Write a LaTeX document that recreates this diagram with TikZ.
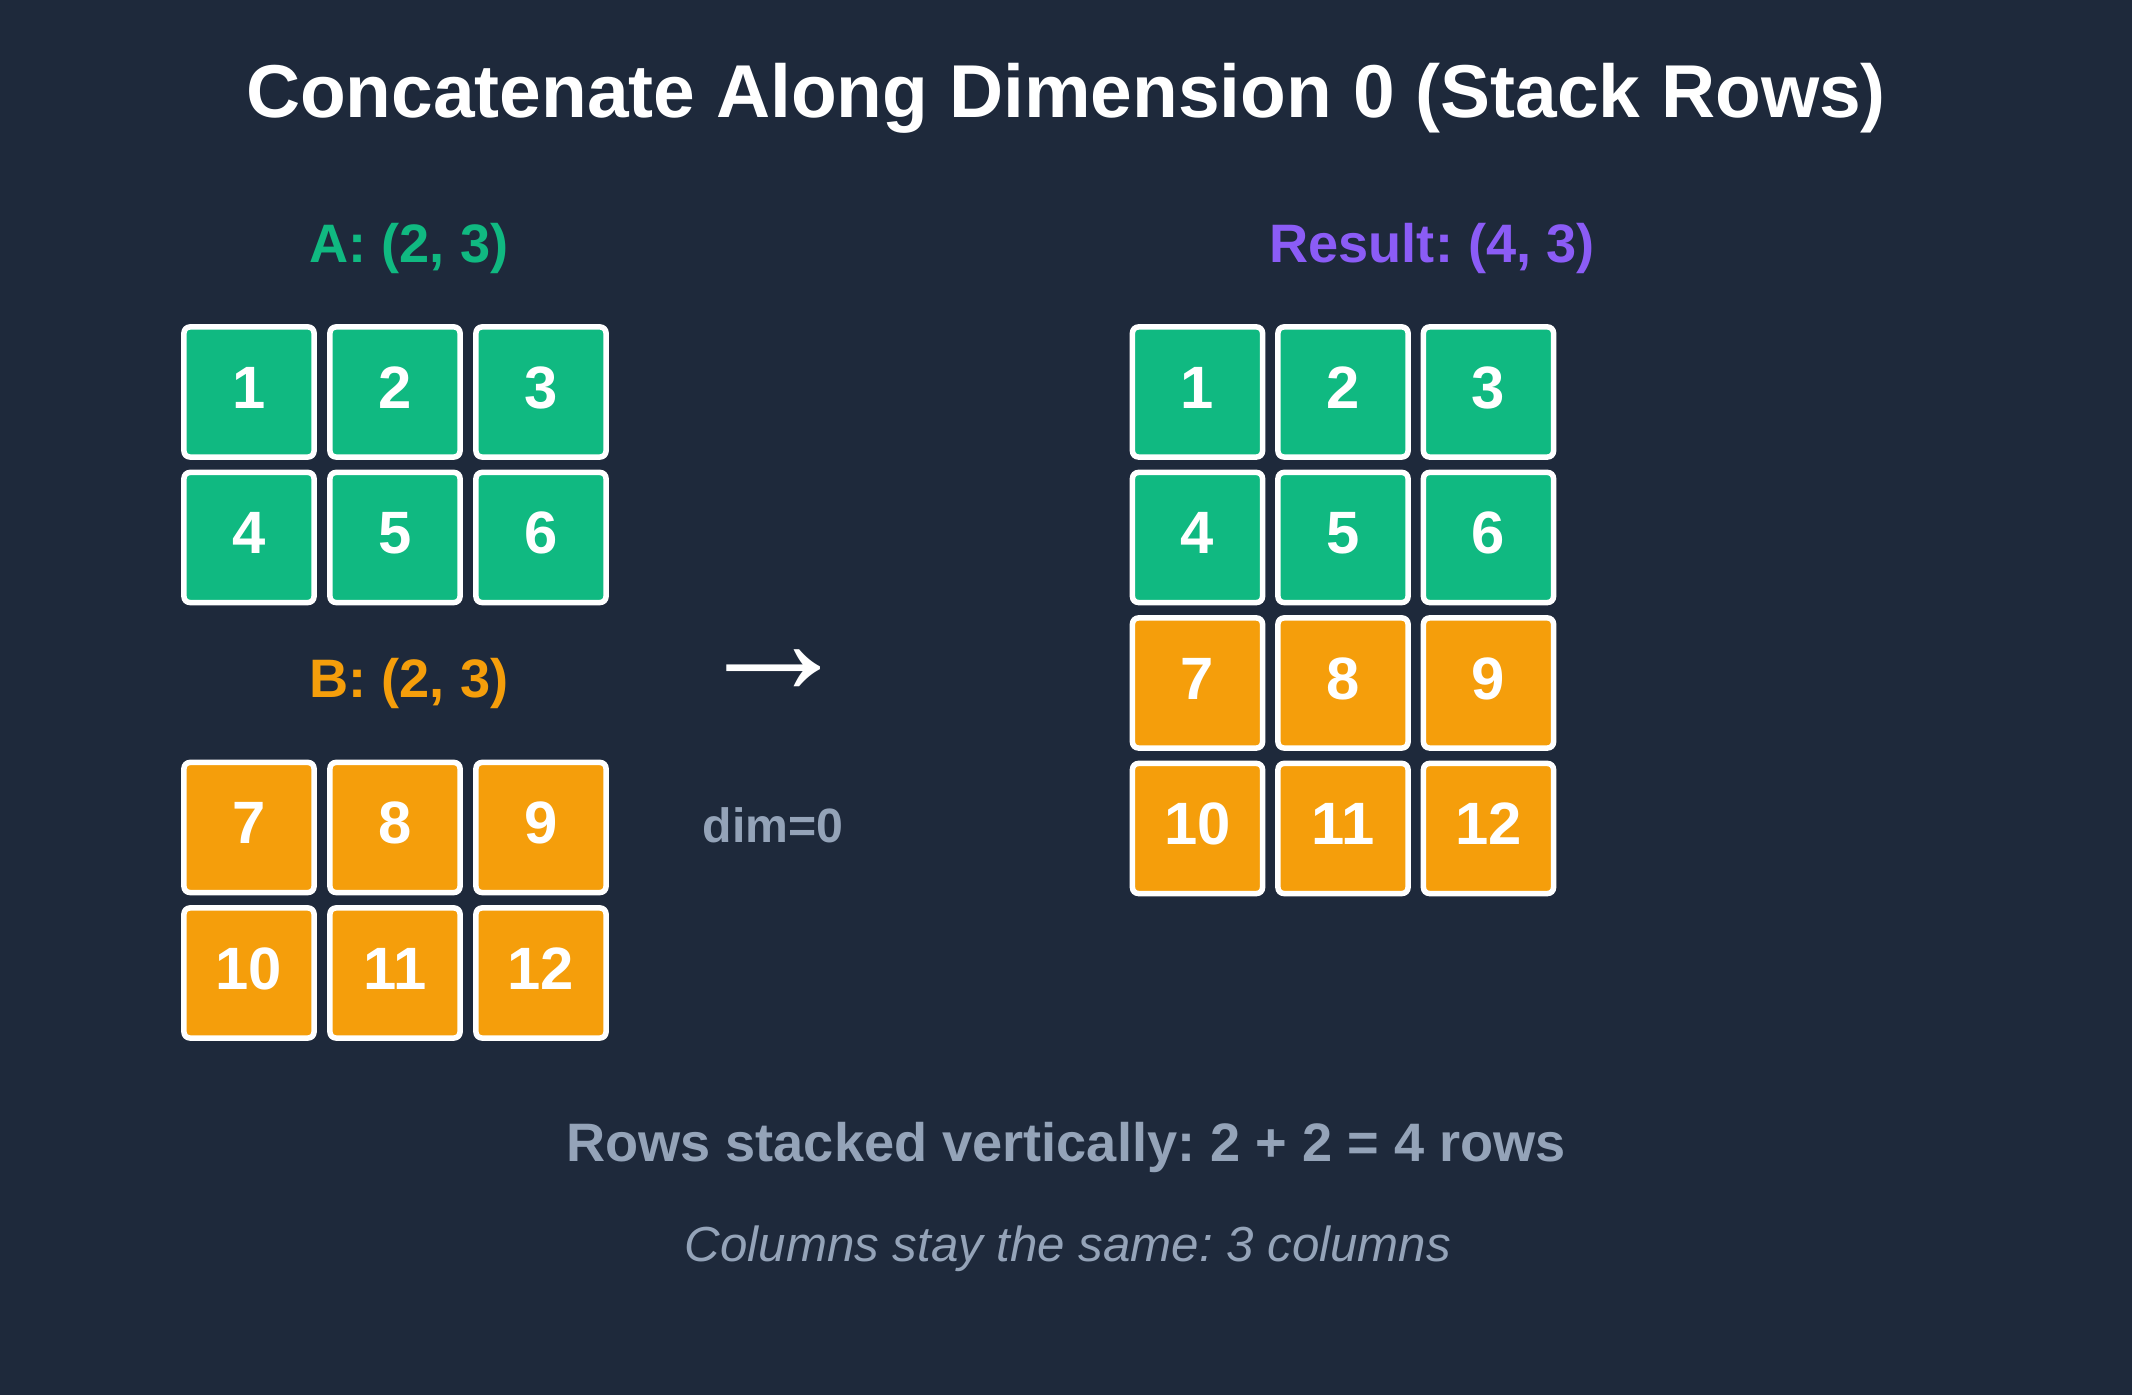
\documentclass[tikz,border=0pt]{standalone}
\usepackage{fontspec}
\setmainfont{Liberation Sans}
\usepackage{tikz}
\frenchspacing

\definecolor{bgdark}{HTML}{1E293B}
\definecolor{cellgreen}{HTML}{10B981}
\definecolor{cellorange}{HTML}{F59E0B}
\definecolor{respurple}{HTML}{8B5CF6}
\definecolor{notegray}{HTML}{94A3B8}

\tikzset{
  cell/.style={rectangle, draw=white, line width=0.055cm, rounded corners=0.06cm,
    minimum size=1.3cm, inner sep=0pt, text=white, text depth=0.09cm,
    font=\fontsize{17}{17}\selectfont\bfseries},
  acell/.style={cell, fill=cellgreen},
  bcell/.style={cell, fill=cellorange},
  shapelbl/.style={anchor=base, font=\fontsize{15.4}{15.4}\selectfont\bfseries}
}

\begin{document}
\begin{tikzpicture}[x=0.01cm, y=-0.01cm]
\fill[bgdark] (0,0) rectangle (2132,1395);

\node[anchor=base, text=white, font=\fontsize{21.3}{21.3}\selectfont\bfseries]
  (title) at (1066,118) {Concatenate Along Dimension 0 (Stack Rows)};

% input A
\node[shapelbl, text=cellgreen] (alabel) at (409,262.5) {A: (2, 3)};
\draw
(249, 392) node[acell](a1){1}
(395, 392) node[acell](a2){2}
(541, 392) node[acell](a3){3}
(249, 537.5) node[acell](a4){4}
(395, 537.5) node[acell](a5){5}
(541, 537.5) node[acell](a6){6};

% input B
\node[shapelbl, text=cellorange] (blabel) at (409,697.5) {B: (2, 3)};
\draw
(249, 827.5) node[bcell](b1){7}
(395, 827.5) node[bcell](b2){8}
(541, 827.5) node[bcell](b3){9}
(249, 973) node[bcell](b4){10}
(395, 973) node[bcell](b5){11}
(541, 973) node[bcell](b6){12};

% operation
\node[text=white, font=\fontsize{45}{45}\selectfont] (arrow) at (774,672) {→};
\node[anchor=base, text=notegray, font=\fontsize{13.7}{13.7}\selectfont\bfseries]
  (dim) at (773,842.5) {dim=0};

% result
\node[shapelbl, text=respurple] (rlabel) at (1432,263) {Result: (4, 3)};
\draw
(1197.5, 392) node[acell](r1){1}
(1343, 392) node[acell](r2){2}
(1488.5, 392) node[acell](r3){3}
(1197.5, 537.5) node[acell](r4){4}
(1343, 537.5) node[acell](r5){5}
(1488.5, 537.5) node[acell](r6){6}
(1197.5, 683) node[bcell](r7){7}
(1343, 683) node[bcell](r8){8}
(1488.5, 683) node[bcell](r9){9}
(1197.5, 828.5) node[bcell](r10){10}
(1343, 828.5) node[bcell](r11){11}
(1488.5, 828.5) node[bcell](r12){12};

% notes
\node[anchor=base, text=notegray, font=\fontsize{15.4}{15.4}\selectfont\bfseries]
  (note1) at (1066,1161.5) {Rows stacked vertically: 2 + 2 = 4 rows};
\node[anchor=base, text=notegray, font=\fontsize{14}{14}\selectfont\itshape]
  (note2) at (1068,1262) {Columns stay the same: 3 columns};
\end{tikzpicture}
\end{document}
